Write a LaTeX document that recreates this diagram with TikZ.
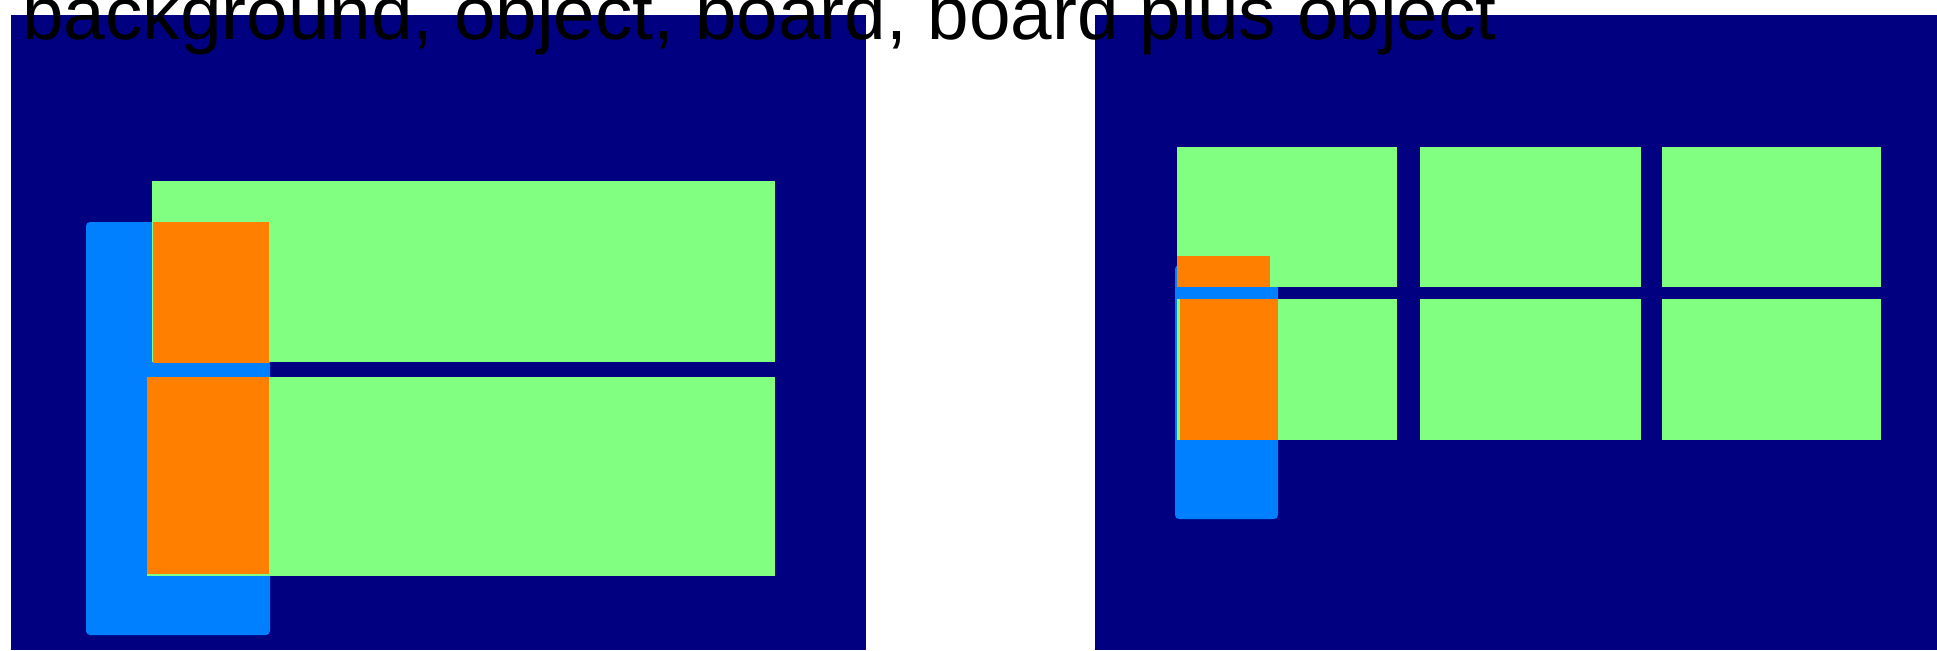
\documentclass[tikz,border=0pt]{standalone}
\usepackage{fontspec}
\setmainfont{Liberation Sans}
\definecolor{jnavy}{HTML}{000080}
\definecolor{jblue}{HTML}{0080FF}
\definecolor{jgreen}{HTML}{80FF80}
\definecolor{jorange}{HTML}{FF8000}
\tikzset{
  panel/.style={fill=jnavy},
  objectbox/.style={fill=jblue, rounded corners=2pt},
  boardbox/.style={fill=jgreen},
  overlapbox/.style={fill=jorange},
  titletext/.style={anchor=base west, inner sep=0pt, font=\fontsize{37.35}{40}\selectfont, text=black}
}
\begin{document}
\begin{tikzpicture}[x=0.5pt,y=-0.5pt]
\useasboundingbox (0,0) rectangle (1937,650);
\clip (0,0) rectangle (1937,650);
% left panel
\fill[panel] (11,15) rectangle (866,650);
\fill[objectbox] (86,222) rectangle (270,635);
\fill[boardbox] (152,181) rectangle (775,362);
\fill[boardbox] (147,377) rectangle (775,576);
\fill[overlapbox] (153,222) rectangle (269,363);
\fill[overlapbox] (147,377) rectangle (269,574);
% right panel
\fill[panel] (1095,15) rectangle (1937,650);
\fill[objectbox] (1175,265) rectangle (1278,519);
\foreach \xa/\xb in {1177/1397,1420/1641,1662/1881}{
  \fill[boardbox] (\xa,147) rectangle (\xb,287);
  \fill[boardbox] (\xa,299) rectangle (\xb,440);
}
\fill[objectbox] (1175,287) rectangle (1275,299);
\fill[overlapbox] (1177,256) rectangle (1270,287);
\fill[overlapbox] (1180,299) rectangle (1278,440);
% title
\node[titletext] (title) at (22,39.5) {background, object, board, board plus object};
\end{tikzpicture}
\end{document}
